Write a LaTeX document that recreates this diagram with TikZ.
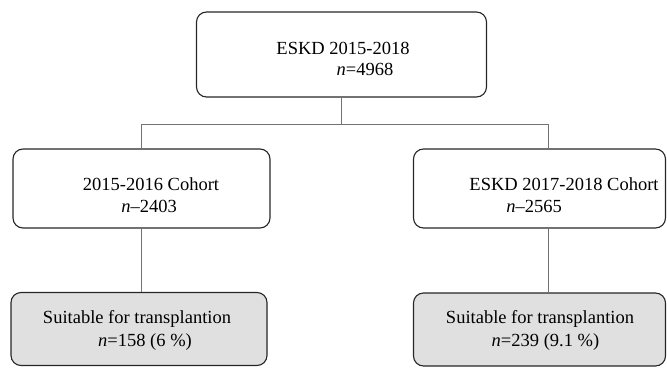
\documentclass[tikz,border=0pt]{standalone}
\usepackage{fontspec}
\setmainfont{Liberation Serif}
\begin{document}
\begin{tikzpicture}[x=1pt,y=-1pt,
  box/.style={draw=black!85,line width=1.1pt,rounded corners=10pt,inner sep=0pt},
  grey/.style={fill=black!12},
  lbl/.style={anchor=base,inner sep=0pt,font=\fontsize{18.5}{22}\selectfont},
  conn/.style={draw=black!55,line width=0.8pt}]
\useasboundingbox (0,0) rectangle (667,367);
% boxes
\node[box,minimum width=290pt,minimum height=85pt] (top) at (341.5,54.5) {};
\node[box,minimum width=257pt,minimum height=79pt] (lm) at (141.5,188.5) {};
\node[box,minimum width=252pt,minimum height=79pt] (rm) at (539.5,188.5) {};
\node[box,grey,minimum width=256pt,minimum height=73pt] (ll) at (139,329) {};
\node[box,grey,minimum width=252pt,minimum height=73pt] (rl) at (539.5,329.5) {};
% texts
\node[lbl] (t1) at (343,54) {ESKD 2015-2018};
\node[lbl] (t2) at (365,75) {\textit{n}=4968};
\node[lbl] (l1) at (151,190) {2015-2016 Cohort};
\node[lbl] (l2) at (149,212) {\textit{n}–2403};
\node[lbl] (r1) at (564,190) {ESKD 2017-2018 Cohort};
\node[lbl] (r2) at (534,212) {\textit{n}–2565};
\node[lbl] (ll1) at (137,323) {Suitable for transplantion};
\node[lbl] (ll2) at (145,346) {\textit{n}=158 (6 \%)};
\node[lbl] (rl1) at (540,323) {Suitable for transplantion};
\node[lbl] (rl2) at (545.5,346) {\textit{n}=239 (9.1 \%)};
% connectors
\coordinate (j) at (341.5,124);
\coordinate (jl) at (141,124);
\coordinate (jr) at (548,124);
\draw[conn] (top.south) -- (j);
\draw[conn] (jl) -- (jr);
\draw[conn] (jl) -- (jl |- lm.north);
\draw[conn] (jr) -- (jr |- rm.north);
\draw[conn] (jl |- lm.south) -- (jl |- ll.north);
\draw[conn] (jr |- rm.south) -- (jr |- rl.north);
\end{tikzpicture}
\end{document}
